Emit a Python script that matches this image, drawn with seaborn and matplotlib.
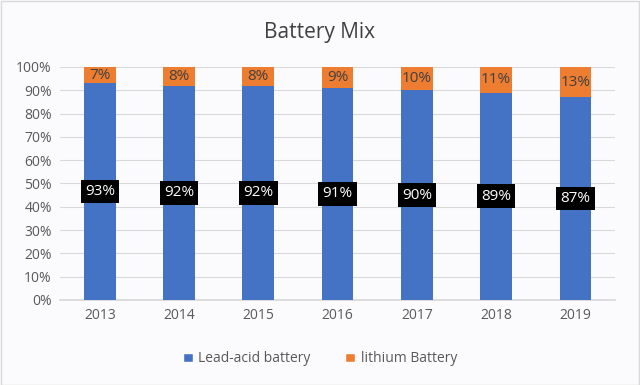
import matplotlib
matplotlib.use("Agg")
import matplotlib.pyplot as plt
import seaborn as sns
import pandas as pd
import numpy as np
from matplotlib.patches import Patch

years = ["2013", "2014", "2015", "2016", "2017", "2018", "2019"]
lead_acid = [93, 92, 92, 91, 90, 89, 87]
lithium = [7, 8, 8, 9, 10, 11, 13]

sns.set_theme(style="white")
plt.rcParams['font.family'] = ['Open Sans', 'DejaVu Sans']

blue = "#4472C4"
orange = "#ED7D31"
bg = "#FBFBFD"

df = pd.DataFrame({"year": years, "lead": lead_acid, "lith": lithium})
df["total"] = df["lead"] + df["lith"]

fig = plt.figure(figsize=(6.4, 3.85), dpi=100, facecolor=bg)
ax = fig.add_axes([0.094, 0.221, 0.867, 0.605])
ax.set_facecolor(bg)

sns.barplot(data=df, x="year", y="total", color=orange, width=0.4, ax=ax,
            saturation=1, edgecolor="none", zorder=2)
sns.barplot(data=df, x="year", y="lead", color=blue, width=0.4, ax=ax,
            saturation=1, edgecolor="none", zorder=3)

ax.set_ylim(0, 100)
ax.set_xlim(-0.5, len(years) - 0.5)
ax.set_yticks(np.arange(0, 101, 10))
ax.set_yticklabels([f"{v}%" for v in range(0, 101, 10)])
ax.yaxis.grid(True, color="#D9D9D9", linewidth=0.8, zorder=0)
ax.set_axisbelow(True)
for s in ["top", "right", "left"]:
    ax.spines[s].set_visible(False)
ax.spines["bottom"].set_color("#D9D9D9")
ax.tick_params(axis="both", length=0, labelsize=10, colors="#595959", pad=6)
ax.set_xlabel("")
ax.set_ylabel("")

for i, (l, t) in enumerate(zip(lead_acid, lithium)):
    ax.text(i, l / 2, f"{l}%", ha="center", va="center", fontsize=11,
            color="white", zorder=5,
            bbox=dict(boxstyle="square,pad=0.28", facecolor="black", edgecolor="none"))
    ax.text(i, l + t / 2, f"{t}%", ha="center", va="center", fontsize=11,
            color="#404040", zorder=5)

fig.text(0.5, 0.915, "Battery Mix", ha="center", va="center", fontsize=15,
         color="#404040")

handles = [Patch(facecolor=blue, label="Lead-acid battery"),
           Patch(facecolor=orange, label="lithium Battery")]
fig.legend(handles=handles, loc="center", bbox_to_anchor=(0.5, 0.068), ncol=2,
           frameon=False, fontsize=10, handlelength=0.7, handleheight=0.7,
           columnspacing=2.5, handletextpad=0.4, labelcolor="#595959")

fig.patches.append(plt.Rectangle((0.001, 0.001), 0.997, 0.997, transform=fig.transFigure,
                                 fill=False, edgecolor="#D9D9D9", linewidth=1))
fig.savefig("out.png", dpi=100, facecolor=bg)
